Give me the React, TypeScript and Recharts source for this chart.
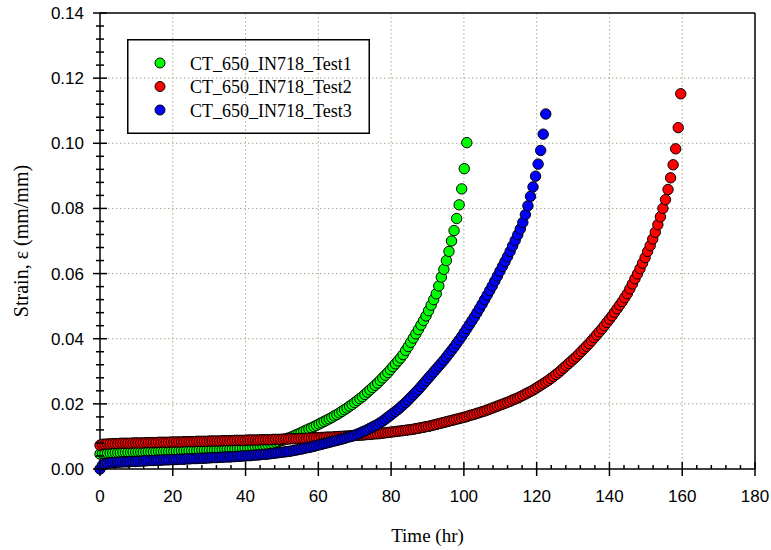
import { CartesianGrid, Legend, Scatter, ScatterChart, XAxis, YAxis } from 'recharts';

// sample times (hr), one reading about every 0.7 hr
const timeHours = [
  0, 0.7, 1.4, 2.1, 2.8, 3.5, 4.2, 4.9, 5.6, 6.3,
  7, 7.7, 8.4, 9.1, 9.8, 10.5, 11.2, 11.9, 12.6, 13.3,
  14, 14.7, 15.4, 16.1, 16.8, 17.5, 18.2, 18.9, 19.6, 20.3,
  21, 21.7, 22.4, 23.1, 23.8, 24.5, 25.2, 25.9, 26.6, 27.3,
  28, 28.7, 29.4, 30.1, 30.8, 31.5, 32.2, 32.9, 33.6, 34.3,
  35, 35.7, 36.4, 37.1, 37.8, 38.5, 39.2, 39.9, 40.6, 41.3,
  42, 42.7, 43.4, 44.1, 44.8, 45.5, 46.2, 46.9, 47.6, 48.3,
  49, 49.7, 50.4, 51.1, 51.8, 52.5, 53.2, 53.9, 54.6, 55.3,
  56, 56.7, 57.4, 58.1, 58.8, 59.5, 60.2, 60.9, 61.6, 62.3,
  63, 63.7, 64.4, 65.1, 65.8, 66.5, 67.2, 67.9, 68.6, 69.3,
  70, 70.7, 71.4, 72.1, 72.8, 73.5, 74.2, 74.9, 75.6, 76.3,
  77, 77.7, 78.4, 79.1, 79.8, 80.5, 81.2, 81.9, 82.6, 83.3,
  84, 84.7, 85.4, 86.1, 86.8, 87.5, 88.2, 88.9, 89.6, 90.3,
  91, 91.7, 92.4, 93.1, 93.8, 94.5, 95.2, 95.9, 96.6, 97.3,
  98, 98.7, 99.4, 100.1, 100.8, 101.5, 102.2, 102.9, 103.6, 104.3,
  105, 105.7, 106.4, 107.1, 107.8, 108.5, 109.2, 109.9, 110.6, 111.3,
  112, 112.7, 113.4, 114.1, 114.8, 115.5, 116.2, 116.9, 117.6, 118.3,
  119, 119.7, 120.4, 121.1, 121.8, 122.5, 123.2, 123.9, 124.6, 125.3,
  126, 126.7, 127.4, 128.1, 128.8, 129.5, 130.2, 130.9, 131.6, 132.3,
  133, 133.7, 134.4, 135.1, 135.8, 136.5, 137.2, 137.9, 138.6, 139.3,
  140, 140.7, 141.4, 142.1, 142.8, 143.5, 144.2, 144.9, 145.6, 146.3,
  147, 147.7, 148.4, 149.1, 149.8, 150.5, 151.2, 151.9, 152.6, 153.3,
  154, 154.7, 155.4, 156.1, 156.8, 157.5, 158.2, 158.9, 159.6,
];

// strain (mm/mm) per sample
const test1Strain = [
  0.0046, 0.0048, 0.0048, 0.0049, 0.0049, 0.0049, 0.005, 0.005, 0.005, 0.0051,
  0.0051, 0.0051, 0.0051, 0.0052, 0.0052, 0.0052, 0.0052, 0.0052, 0.0053, 0.0053,
  0.0053, 0.0053, 0.0053, 0.0054, 0.0054, 0.0054, 0.0054, 0.0054, 0.0055, 0.0055,
  0.0055, 0.0055, 0.0056, 0.0056, 0.0056, 0.0056, 0.0057, 0.0057, 0.0057, 0.0058,
  0.0058, 0.0058, 0.0058, 0.0059, 0.0059, 0.0059, 0.006, 0.006, 0.006, 0.0061,
  0.0061, 0.0061, 0.0062, 0.0062, 0.0063, 0.0063, 0.0064, 0.0065, 0.0065, 0.0066,
  0.0067, 0.0068, 0.0069, 0.007, 0.0072, 0.0073, 0.0075, 0.0077, 0.0079, 0.0082,
  0.0084, 0.0087, 0.0089, 0.0092, 0.0095, 0.0098, 0.0101, 0.0105, 0.0108, 0.0112,
  0.0116, 0.0119, 0.0123, 0.0126, 0.013, 0.0134, 0.0138, 0.0142, 0.0146, 0.015,
  0.0154, 0.0158, 0.0163, 0.0167, 0.0172, 0.0177, 0.0182, 0.0187, 0.0193, 0.0198,
  0.0204, 0.021, 0.0216, 0.0222, 0.0229, 0.0236, 0.0243, 0.025, 0.0257, 0.0264,
  0.0272, 0.028, 0.0288, 0.0296, 0.0305, 0.0314, 0.0323, 0.0332, 0.0341, 0.0351,
  0.0364, 0.0376, 0.0389, 0.0402, 0.0415, 0.0428, 0.0442, 0.0456, 0.047, 0.0486,
  0.0503, 0.052, 0.0538, 0.0562, 0.0589, 0.0613, 0.064, 0.0668, 0.07, 0.0732,
  0.0769, 0.0811, 0.086, 0.0922, 0.1002,
];

const test2Strain = [
  0.0073, 0.0076, 0.0076, 0.0077, 0.0077, 0.0078, 0.0078, 0.0078, 0.0079, 0.0079,
  0.0079, 0.0079, 0.0079, 0.008, 0.008, 0.008, 0.008, 0.008, 0.0081, 0.0081,
  0.0081, 0.0081, 0.0081, 0.0082, 0.0082, 0.0082, 0.0082, 0.0082, 0.0083, 0.0083,
  0.0083, 0.0083, 0.0083, 0.0084, 0.0084, 0.0084, 0.0084, 0.0084, 0.0085, 0.0085,
  0.0085, 0.0085, 0.0085, 0.0086, 0.0086, 0.0086, 0.0086, 0.0086, 0.0087, 0.0087,
  0.0087, 0.0087, 0.0087, 0.0088, 0.0088, 0.0088, 0.0088, 0.0088, 0.0089, 0.0089,
  0.0089, 0.0089, 0.0089, 0.009, 0.009, 0.009, 0.009, 0.009, 0.0091, 0.0091,
  0.0091, 0.0091, 0.0092, 0.0092, 0.0092, 0.0093, 0.0093, 0.0093, 0.0093, 0.0094,
  0.0094, 0.0094, 0.0095, 0.0095, 0.0096, 0.0096, 0.0096, 0.0097, 0.0097, 0.0098,
  0.0098, 0.0098, 0.0099, 0.0099, 0.01, 0.01, 0.0101, 0.0101, 0.0102, 0.0102,
  0.0103, 0.0103, 0.0104, 0.0104, 0.0105, 0.0106, 0.0106, 0.0107, 0.0108, 0.0108,
  0.0109, 0.011, 0.0111, 0.0112, 0.0113, 0.0114, 0.0115, 0.0116, 0.0117, 0.0118,
  0.0119, 0.012, 0.0121, 0.0122, 0.0124, 0.0125, 0.0127, 0.0128, 0.013, 0.0131,
  0.0133, 0.0135, 0.0137, 0.0139, 0.0141, 0.0143, 0.0145, 0.0147, 0.0149, 0.0151,
  0.0153, 0.0155, 0.0157, 0.0159, 0.0161, 0.0164, 0.0166, 0.0168, 0.0171, 0.0173,
  0.0176, 0.0178, 0.0181, 0.0184, 0.0187, 0.019, 0.0193, 0.0196, 0.0199, 0.0202,
  0.0205, 0.0208, 0.0212, 0.0215, 0.0218, 0.0222, 0.0226, 0.023, 0.0234, 0.0238,
  0.0242, 0.0247, 0.0252, 0.0257, 0.0262, 0.0267, 0.0272, 0.0278, 0.0284, 0.029,
  0.0296, 0.0303, 0.031, 0.0317, 0.0324, 0.0331, 0.0338, 0.0345, 0.0353, 0.0361,
  0.0369, 0.0377, 0.0385, 0.0394, 0.0403, 0.0412, 0.0421, 0.043, 0.044, 0.045,
  0.046, 0.047, 0.0481, 0.0492, 0.0503, 0.0514, 0.0526, 0.0538, 0.0553, 0.0568,
  0.0584, 0.0599, 0.0615, 0.0632, 0.0649, 0.0668, 0.0686, 0.0706, 0.0727, 0.075,
  0.0774, 0.08, 0.0827, 0.0858, 0.0894, 0.0934, 0.0983, 0.1048, 0.1152,
];

const test3Strain = [
  0, 0.0012, 0.0016, 0.0018, 0.0019, 0.002, 0.002, 0.0021, 0.0021, 0.0022,
  0.0022, 0.0022, 0.0023, 0.0023, 0.0023, 0.0024, 0.0024, 0.0025, 0.0025, 0.0026,
  0.0026, 0.0026, 0.0027, 0.0027, 0.0027, 0.0028, 0.0028, 0.0028, 0.0029, 0.0029,
  0.0029, 0.003, 0.003, 0.003, 0.0031, 0.0031, 0.0032, 0.0032, 0.0032, 0.0033,
  0.0033, 0.0033, 0.0034, 0.0034, 0.0035, 0.0035, 0.0035, 0.0036, 0.0036, 0.0037,
  0.0037, 0.0037, 0.0038, 0.0038, 0.0039, 0.0039, 0.004, 0.004, 0.0041, 0.0041,
  0.0042, 0.0043, 0.0043, 0.0044, 0.0045, 0.0045, 0.0046, 0.0047, 0.0048, 0.0049,
  0.005, 0.0051, 0.0052, 0.0053, 0.0054, 0.0055, 0.0057, 0.0058, 0.006, 0.0061,
  0.0063, 0.0065, 0.0066, 0.0068, 0.007, 0.0072, 0.0074, 0.0076, 0.0078, 0.008,
  0.0082, 0.0084, 0.0086, 0.0088, 0.009, 0.0092, 0.0094, 0.0097, 0.0099, 0.0101,
  0.0104, 0.0107, 0.011, 0.0114, 0.0117, 0.0121, 0.0125, 0.0129, 0.0133, 0.0137,
  0.0142, 0.0147, 0.0153, 0.0159, 0.0165, 0.0171, 0.0177, 0.0183, 0.019, 0.0197,
  0.0204, 0.0212, 0.022, 0.0228, 0.0236, 0.0244, 0.0253, 0.0262, 0.0271, 0.028,
  0.0289, 0.0298, 0.0307, 0.0316, 0.0325, 0.0334, 0.0344, 0.0354, 0.0364, 0.0374,
  0.0385, 0.0396, 0.0407, 0.0419, 0.0431, 0.0443, 0.0455, 0.0467, 0.048, 0.0493,
  0.0506, 0.052, 0.0534, 0.0548, 0.0562, 0.0577, 0.0592, 0.0607, 0.0622, 0.0637,
  0.0652, 0.0668, 0.0685, 0.0702, 0.0719, 0.0737, 0.0757, 0.0781, 0.0808, 0.0837,
  0.0866, 0.0899, 0.0936, 0.0978, 0.1028, 0.109,
];

const seriesNames = ['CT_650_IN718_Test1', 'CT_650_IN718_Test2', 'CT_650_IN718_Test3'];
const seriesColors = ['#00ff00', '#ff0000', '#0000ff'];

const xTicks = [
  0, 4, 8, 12, 16, 20, 24, 28, 32, 36, 40, 44, 48, 52, 56, 60, 64, 68, 72, 76, 80, 84, 88,
  92, 96, 100, 104, 108, 112, 116, 120, 124, 128, 132, 136, 140, 144, 148, 152, 156, 160,
  164, 168, 172, 176, 180,
];
const yTicks = [
  0, 0.004, 0.008, 0.012, 0.016, 0.02, 0.024, 0.028, 0.032, 0.036, 0.04, 0.044, 0.048,
  0.052, 0.056, 0.06, 0.064, 0.068, 0.072, 0.076, 0.08, 0.084, 0.088, 0.092, 0.096, 0.1,
  0.104, 0.108, 0.112, 0.116, 0.12, 0.124, 0.128, 0.132, 0.136, 0.14,
];
const xGrid = [20, 40, 60, 80, 100, 120, 140, 160];
const yGrid = [0.02, 0.04, 0.06, 0.08, 0.1, 0.12];

const toPoints = (strain: number[]) => strain.map((s, i) => ({ t: timeHours[i], s }));
const seriesData = [toPoints(test1Strain), toPoints(test2Strain), toPoints(test3Strain)];

const sansFont = '"Liberation Sans", Arial, sans-serif';
const serifFont = '"Liberation Serif", "Times New Roman", serif';
const ink = '#000';

const isMajorX = (v: number) => v % 20 === 0;
const isMajorY = (v: number) => Math.round(v * 1000) % 20 === 0;

const BottomTick = ({ x, y, payload }: any) => {
  const major = isMajorX(payload.value);
  return (
    <g>
      <line x1={x} x2={x} y1={major ? y - 7 : y - 4} y2={major ? y + 7 : y} stroke={ink} strokeWidth={1.5} />
      {major && (
        <text x={x} y={y + 33} textAnchor="middle" fontFamily={sansFont} fontSize={17} fill={ink}>
          {payload.value}
        </text>
      )}
    </g>
  );
};

const TopTick = ({ x, y, payload }: any) => {
  const major = isMajorX(payload.value);
  return <line x1={x} x2={x} y1={y} y2={y + (major ? 7 : 4)} stroke={ink} strokeWidth={1.5} />;
};

const LeftTick = ({ x, y, payload }: any) => {
  const major = isMajorY(payload.value);
  return (
    <g>
      <line x1={x - (major ? 7 : 4)} x2={x + (major ? 7 : 4)} y1={y} y2={y} stroke={ink} strokeWidth={1.5} />
      {major && (
        <text x={x - 16} y={y + 6} textAnchor="end" fontFamily={sansFont} fontSize={17} fill={ink}>
          {payload.value.toFixed(2)}
        </text>
      )}
    </g>
  );
};

const RightTick = ({ x, y, payload }: any) => {
  const major = isMajorY(payload.value);
  return <line x1={x - (major ? 7 : 4)} x2={x} y1={y} y2={y} stroke={ink} strokeWidth={1.5} />;
};

const XTitle = ({ viewBox }: any) => (
  <text x={viewBox.x + viewBox.width / 2} y={viewBox.y + 73} textAnchor="middle" fontFamily={serifFont} fontSize={19} fill={ink}>
    Time (hr)
  </text>
);

const YTitle = ({ viewBox }: any) => {
  const cy = viewBox.y + viewBox.height / 2;
  return (
    <text x={28} y={cy} transform={`rotate(-90, 28, ${cy})`} textAnchor="middle" fontFamily={serifFont} fontSize={20} fill={ink}>
      Strain, ε (mm/mm)
    </text>
  );
};

const LegendBox = () => (
  <svg width={243} height={95} style={{ display: 'block' }}>
    <rect x={0.75} y={0.75} width={241.5} height={93.5} fill="none" stroke={ink} strokeWidth={1.5} />
    {seriesNames.map((name, i) => (
      <g key={name}>
        <circle cx={33} cy={24 + i * 23.5} r={5} fill={seriesColors[i]} stroke={ink} strokeWidth={1} />
        <text x={63} y={30.5 + i * 23.5} fontFamily={serifFont} fontSize={18} fill={ink}>
          {name}
        </text>
      </g>
    ))}
  </svg>
);

const marker = (color: string) => (props: any) => (
  <circle cx={props.cx} cy={props.cy} r={5.2} fill={color} stroke={ink} strokeWidth={1} />
);

const App = () => (
  <div style={{ position: 'absolute', left: 0, top: 0 }}>
    <ScatterChart width={771} height={550} margin={{ top: 12, right: 15, bottom: 51, left: 40 }}>
      <CartesianGrid
        horizontalValues={yGrid}
        verticalValues={xGrid}
        stroke="#a8a890"
        strokeDasharray="1.5 2.5"
      />
      <XAxis
        dataKey="t"
        type="number"
        domain={[0, 180]}
        ticks={xTicks}
        interval={0}
        tickSize={0}
        tickMargin={0}
        tickLine={false}
        tick={BottomTick}
        axisLine={{ stroke: ink, strokeWidth: 1.5 }}
        height={30}
        label={XTitle}
      />
      <XAxis
        xAxisId="top"
        orientation="top"
        type="number"
        domain={[0, 180]}
        ticks={xTicks}
        interval={0}
        tickSize={0}
        tickMargin={0}
        tickLine={false}
        tick={TopTick}
        axisLine={{ stroke: ink, strokeWidth: 1.5 }}
        height={1}
      />
      <YAxis
        dataKey="s"
        type="number"
        domain={[0, 0.14]}
        ticks={yTicks}
        interval={0}
        tickSize={0}
        tickMargin={0}
        tickLine={false}
        tick={LeftTick}
        axisLine={{ stroke: ink, strokeWidth: 1.5 }}
        width={60}
        label={YTitle}
      />
      <YAxis
        yAxisId="right"
        orientation="right"
        type="number"
        domain={[0, 0.14]}
        ticks={yTicks}
        interval={0}
        tickSize={0}
        tickMargin={0}
        tickLine={false}
        tick={RightTick}
        axisLine={{ stroke: ink, strokeWidth: 1.5 }}
        width={1}
      />
      <Legend
        layout="vertical"
        align="center"
        verticalAlign="middle"
        wrapperStyle={{ position: 'absolute', left: 127, top: 39, width: 243, height: 95 }}
        content={() => <LegendBox />}
      />
      {seriesData.map((data, i) => (
        <Scatter
          key={seriesNames[i]}
          name={seriesNames[i]}
          data={data}
          fill={seriesColors[i]}
          shape={marker(seriesColors[i])}
          isAnimationActive={false}
        />
      ))}
    </ScatterChart>
  </div>
);

export default App;
